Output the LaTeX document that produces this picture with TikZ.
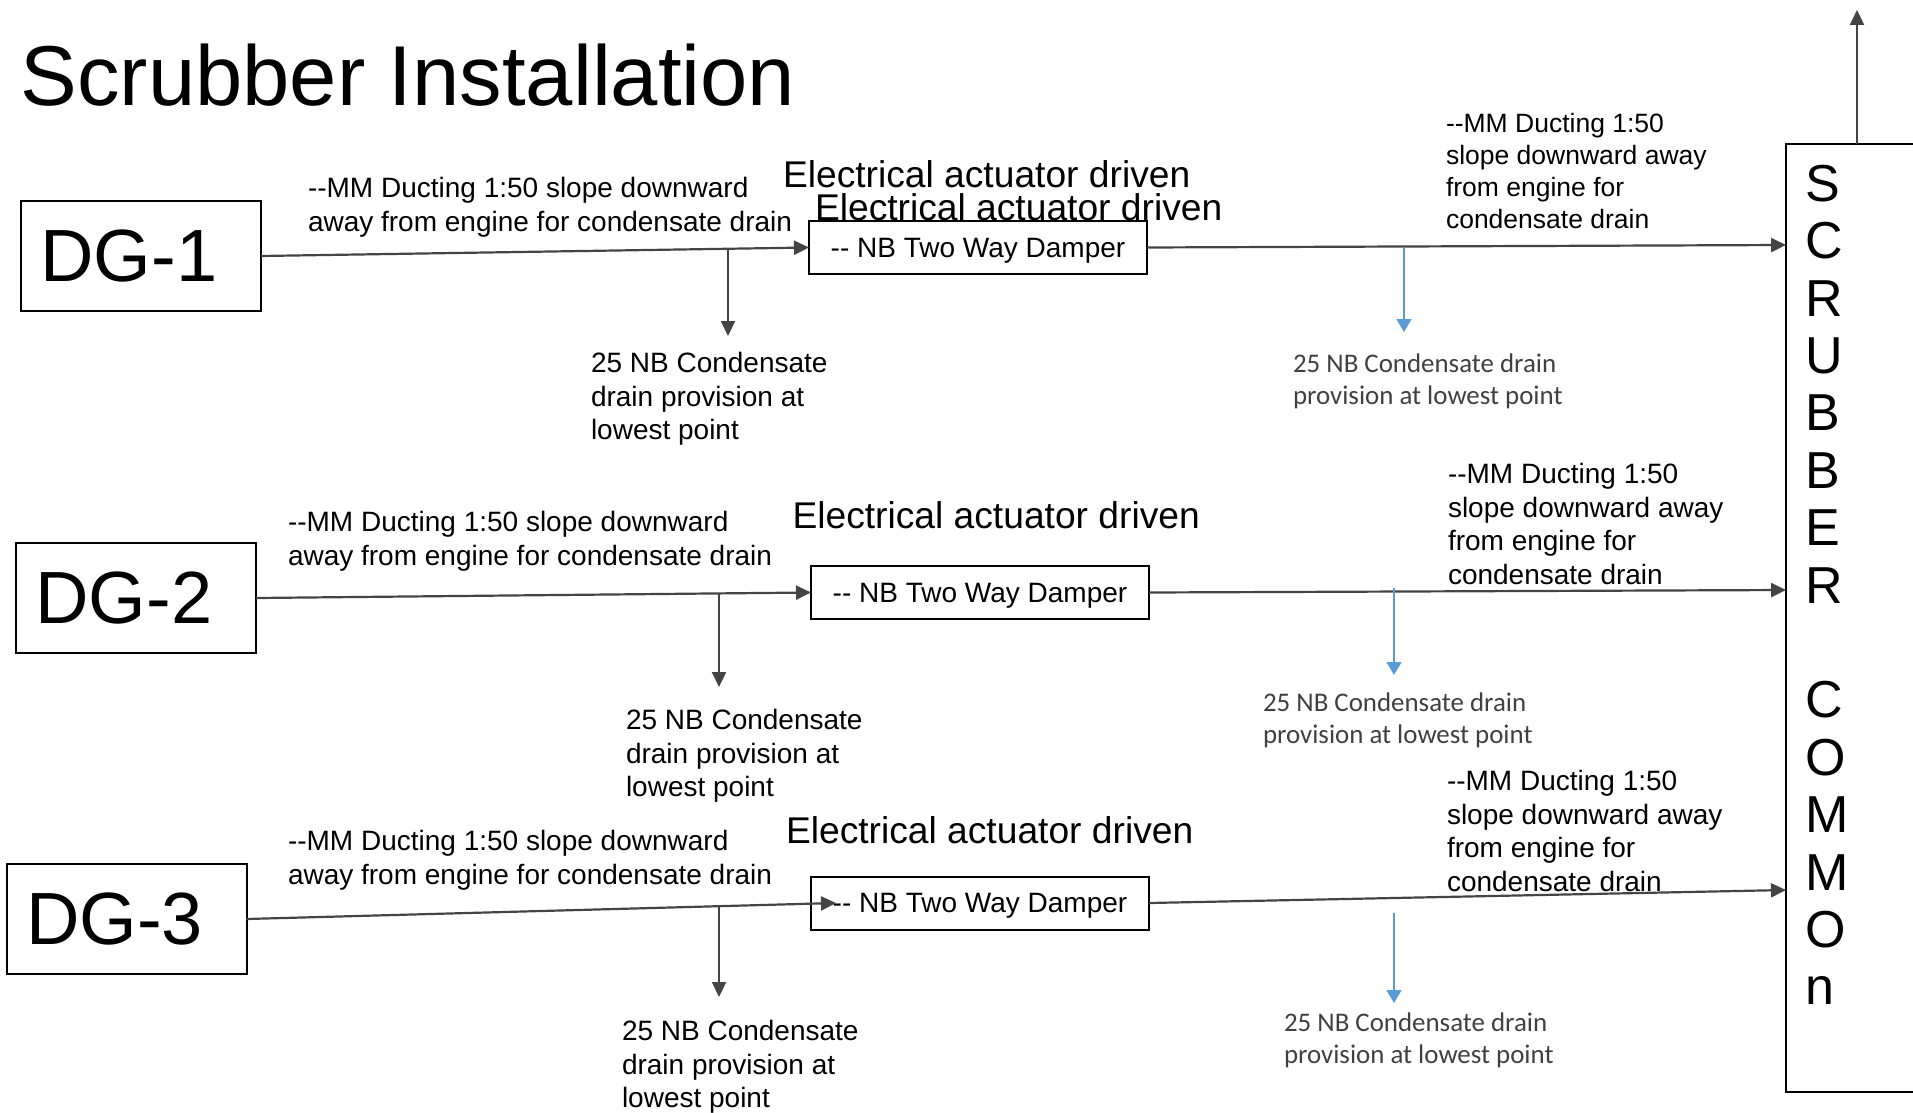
\documentclass[tikz,border=0pt]{standalone}
\usepackage{fontspec}
\setmainfont{Liberation Sans}
\newfontfamily\calib{Carlito}
\usetikzlibrary{arrows.meta}
\definecolor{arrowgray}{HTML}{444444}
\definecolor{drainblue}{HTML}{5B9BD5}
\definecolor{labelgray}{HTML}{404040}
\begin{document}
\begin{tikzpicture}[x=1pt,y=-1pt,
  every node/.style={inner sep=0pt, outer sep=0pt},
  titletext/.style={anchor=base west, font=\fontsize{85}{90}\selectfont},
  dgbox/.style={draw=black, line width=2pt, minimum height=110pt, text width=201pt, inner xsep=19.5pt, align=left, font=\fontsize{74}{78}\selectfont},
  damper/.style={draw=black, line width=2pt, minimum width=338pt, minimum height=53pt, text depth=0pt, font=\fontsize{28}{33}\selectfont},
  elec/.style={anchor=base west, font=\fontsize{37.2}{40}\selectfont},
  lbl/.style={anchor=north west, align=left, font=\fontsize{28}{33.5}\selectfont},
  lblsmall/.style={anchor=north west, align=left, font=\fontsize{26.5}{32}\selectfont},
  bluelbl/.style={anchor=north west, align=left, text=labelgray, font=\calib\fontsize{26.9}{32}\selectfont},
  duct/.style={draw=arrowgray, line width=2.2pt, -{Triangle[length=15pt,width=14pt]}},
  bluedrain/.style={draw=drainblue, line width=1.5pt, -{Triangle[length=13pt,width=15pt]}},
  scrbox/.style={draw=black, line width=2pt, minimum width=160pt, minimum height=948pt},
  scrtext/.style={anchor=north west, align=left, font=\fontsize{52}{57.4}\selectfont}
]
\useasboundingbox (0,0) rectangle (1913,1113);
\clip (0,0) rectangle (1913,1113);
\fill[white] (0,0) rectangle (1913,1113);

% title
\node[titletext] (title) at (20.5,106) {Scrubber Installation};

% engines
\node[dgbox] (dg1) at (141,256) {DG-1};
\node[dgbox] (dg2) at (136,598) {DG-2};
\node[dgbox] (dg3) at (126.5,919) {DG-3};

% dampers
\node[damper] (d1) at (978,247.5) {-{}- NB Two Way Damper};
\node[damper] (d2) at (980,592.5) {-{}- NB Two Way Damper};
\node[damper] (d3) at (980,903) {-{}- NB Two Way Damper};

% actuator labels
\node[elec] (e1a) at (783,187) {Electrical actuator driven};
\node[elec] (e1b) at (815,220) {Electrical actuator driven};
\node[elec] (e2) at (792.5,528) {Electrical actuator driven};
\node[elec] (e3) at (786,843) {Electrical actuator driven};

% scrubber
\node[scrbox] (scr) at (1866,618) {};
\node[scrtext] (scrlbl) at (1805,165) {S\\C\\R\\U\\B\\B\\E\\R\\\mbox{}\\C\\O\\M\\M\\O\\n};

% left duct labels
\node[lbl] (l1) at (308,177.6) {-{}-MM Ducting 1:50 slope downward\\away from engine for condensate drain};
\node[lbl] (l2) at (288,511.6) {-{}-MM Ducting 1:50 slope downward\\away from engine for condensate drain};
\node[lbl] (l3) at (288,830.6) {-{}-MM Ducting 1:50 slope downward\\away from engine for condensate drain};

% left drain labels
\node[lbl] (dl1) at (591,352.6) {25 NB Condensate\\drain provision at\\lowest point};
\node[lbl] (dl2) at (626,709.6) {25 NB Condensate\\drain provision at\\lowest point};
\node[lbl] (dl3) at (622,1020.6) {25 NB Condensate\\drain provision at\\lowest point};

% right duct labels
\node[lblsmall] (r1) at (1446,113.7) {-{}-MM Ducting 1:50\\slope downward away\\from engine for\\condensate drain};
\node[lbl] (r2) at (1448,463.6) {-{}-MM Ducting 1:50\\slope downward away\\from engine for\\condensate drain};
\node[lbl] (r3) at (1447,770.6) {-{}-MM Ducting 1:50\\slope downward away\\from engine for\\condensate drain};

% right drain labels
\node[bluelbl] (bl1) at (1293,353.5) {25 NB Condensate drain\\provision at lowest point};
\node[bluelbl] (bl2) at (1263,692.5) {25 NB Condensate drain\\provision at lowest point};
\node[bluelbl] (bl3) at (1284,1012.5) {25 NB Condensate drain\\provision at lowest point};

% coordinates
\coordinate (s1) at (1786,245);
\coordinate (s2) at (1786,590);
\coordinate (s3) at (1786,890);
\coordinate (sOut) at (1857,144);
\coordinate (sTop) at (1857,10);
\coordinate (j1) at (728,249.2);
\coordinate (t1) at (728,336);
\coordinate (j2) at (719,593.8);
\coordinate (t2) at (719,687);
\coordinate (j3) at (719,906.2);
\coordinate (t3) at (719,997);
\coordinate (b1) at (1404,247);
\coordinate (bt1) at (1404,332);
\coordinate (b2) at (1394,588);
\coordinate (bt2) at (1394,675);
\coordinate (b3) at (1394,913);
\coordinate (bt3) at (1394,1003);

% ducts
\draw[duct] (dg1.east) -- (d1.west);
\draw[duct] (d1.east) -- (s1);
\draw[duct] (dg2.east) -- (d2.west);
\draw[duct] (d2.east) -- (s2);
\draw[duct] (dg3.east) -- ([xshift=25pt]d3.west);
\draw[duct] (d3.east) -- (s3);
\draw[duct] (sOut) -- (sTop);

% drains
\draw[duct] (j1) -- (t1);
\draw[duct] (j2) -- (t2);
\draw[duct] (j3) -- (t3);
\draw[bluedrain] (b1) -- (bt1);
\draw[bluedrain] (b2) -- (bt2);
\draw[bluedrain] (b3) -- (bt3);
\end{tikzpicture}
\end{document}
